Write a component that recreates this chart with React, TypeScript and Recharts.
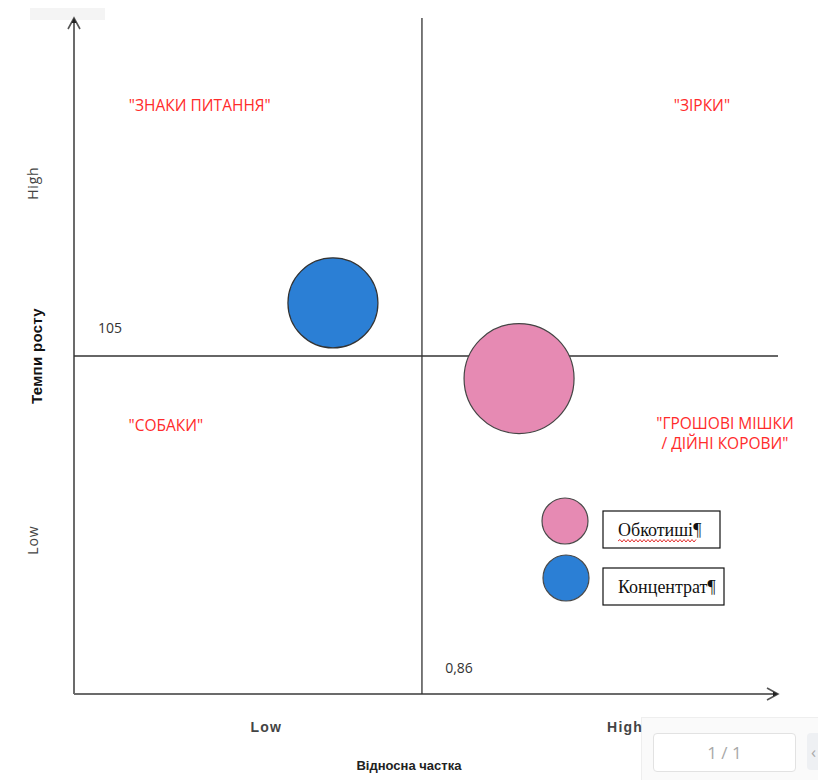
import React from 'react';
import { ScatterChart, Scatter, XAxis, YAxis, ZAxis, ReferenceLine, ReferenceDot, Legend } from 'recharts';

// ---- data ----
const seriesNames = ['Обкотиші', 'Концентрат'];
const seriesColors = ['#e68ab3', '#2b7fd5'];
const pinkData = [{ share: 1.1, growth: 98, size: 100 }];
const blueData = [{ share: 0.64, growth: 121.5, size: 67 }];

const X_MID = 0.86;
const Y_MID = 105;
const X_MAX = 1.74;
const Y_MAX = 210;
const xMidLabel = '0,86';
const yMidLabel = '105';

const xTicks = [0.475, 1.362];
const xTickLabels = ['Low', 'High'];
const yTicks = [47.8, 158.7];
const yTickLabels = ['Low', 'High'];
const xTitle = 'Відносна частка';
const yTitle = 'Темпи росту';

const quadrantLabels = [
  { share: 0.311, growth: 183, lines: ['"ЗНАКИ ПИТАННЯ"'] },
  { share: 1.552, growth: 183, lines: ['"ЗІРКИ"'] },
  { share: 0.227, growth: 83.6, lines: ['"СОБАКИ"'] },
  { share: 1.609, growth: 81, lines: ['"ГРОШОВІ МІШКИ', '/ ДІЙНІ КОРОВИ"'] },
];

const SANS = '"Open Sans", "Liberation Sans", Arial, sans-serif';
const ARIAL = '"Liberation Sans", Arial, sans-serif';
const SERIF = '"Liberation Serif", "Times New Roman", serif';

const wavy = (x0: number, x1: number, y: number) => {
  let d = `M${x0},${y}`;
  let up = true;
  for (let x = x0 + 2; x <= x1; x += 2) {
    d += ` L${x},${up ? y - 1.5 : y + 1}`;
    up = !up;
  }
  return d;
};

const LegendContent = (props: any) => {
  const payload = ([...(props.payload || [])] as any[]).sort(
    (a, b) => seriesNames.indexOf(a.value) - seriesNames.indexOf(b.value)
  );
  const boxW = [117, 121];
  return (
    <svg width={230} height={130} style={{ overflow: 'visible', display: 'block' }}>
      {payload.map((p, i) => {
        const cy = 31 + i * 57;
        return (
          <g key={i}>
            <circle cx={35 + i} cy={cy} r={23} fill={p.color} stroke="#4a4a4a" strokeWidth={1.2} />
            <rect x={73} y={cy - 10} width={boxW[i] ?? 118} height={37} fill="#fff" stroke="#111" strokeWidth={1.2} />
            <text x={88} y={cy + 15} fontFamily={SERIF} fontSize={18} fill="#111">
              {p.value}¶
            </text>
            {i === 0 && <path d={wavy(88, 166, cy + 20)} stroke="#e23030" strokeWidth={1} fill="none" />}
          </g>
        );
      })}
    </svg>
  );
};

const textShape = (dx: number, dy: number, text: string, opts: any = {}) => (props: any) => {
  const x = props.cx + dx;
  const y = props.cy + dy;
  return (
    <text
      x={x}
      y={y}
      textAnchor="middle"
      dominantBaseline="central"
      fontFamily={SANS}
      fontSize={13}
      fill="#333"
      transform={opts.rotate ? `rotate(-90 ${x} ${y})` : undefined}
      {...(opts.attrs || {})}
    >
      {text}
    </text>
  );
};

const quadShape = (lines: string[]) => (props: any) => (
  <g>
    {lines.map((l, i) => (
      <text key={i} x={props.cx} y={props.cy + (i - (lines.length - 1) / 2) * 20} textAnchor="middle"
        dominantBaseline="central" fontFamily={SANS} fontSize={15.5} fill="#ff2b2b">
        {l}
      </text>
    ))}
  </g>
);

const upArrow = (props: any) => (
  <g>
    <path d={`M${props.cx - 6},${props.cy + 11} L${props.cx},${props.cy} L${props.cx + 6},${props.cy + 11}`} stroke="#555" strokeWidth={1.6} fill="none" />
    <path d={`M${props.cx - 2.5},${props.cy + 5} L${props.cx},${props.cy} L${props.cx + 2.5},${props.cy + 5} Z`} fill="#222" />
  </g>
);

const rightArrow = (props: any) => (
  <g>
    <path d={`M${props.cx - 11},${props.cy - 6} L${props.cx},${props.cy} L${props.cx - 11},${props.cy + 6}`} stroke="#555" strokeWidth={1.6} fill="none" />
    <path d={`M${props.cx - 5},${props.cy - 2.5} L${props.cx},${props.cy} L${props.cx - 5},${props.cy + 2.5} Z`} fill="#222" />
  </g>
);

export default function App() {
  return (
    <div style={{ position: 'relative', width: 818, height: 772, background: '#fff' }}>
      {/* screenshot artifacts (behind chart) */}
      <div style={{ position: 'absolute', left: 22, top: 0, width: 75, height: 12, background: '#f4f4f4' }} />
      <div style={{ position: 'absolute', left: 633, top: 709, width: 185, height: 63, background: '#fafafa', borderTop: '1px solid #eee', borderLeft: '1px solid #eee' }}>
        <div style={{ position: 'absolute', left: 11, top: 15, width: 141, height: 37, background: '#fff', border: '1px solid #e2e2e2', borderRadius: 4, display: 'flex', alignItems: 'center', justifyContent: 'center', fontFamily: SANS, fontSize: 17, color: '#a8a8a8' }}>
          1 / 1
        </div>
        <div style={{ position: 'absolute', left: 165, top: 15, width: 30, height: 37, background: '#eef0f3', borderRadius: 4, fontFamily: SANS, fontSize: 17, color: '#aaa', paddingLeft: 4, lineHeight: '37px' }}>
          ‹
        </div>
      </div>

      <ScatterChart width={818} height={772} margin={{ top: 10, right: 48, bottom: 0, left: 8 }}>
        <XAxis type="number" dataKey="share" domain={[0, X_MAX]} height={86} axisLine={false} tickLine={false} tick={false} allowDataOverflow />
        <YAxis type="number" dataKey="growth" domain={[0, Y_MAX]} width={58} axisLine={false} tickLine={false} tick={false} allowDataOverflow />
        <ZAxis type="number" dataKey="size" domain={[0, 100]} range={[0, 9503]} />

        <ReferenceLine x={0} stroke="#6b6b6b" strokeWidth={2} />
        <ReferenceLine y={0} stroke="#6b6b6b" strokeWidth={2} />
        <ReferenceLine x={X_MID} stroke="#333" strokeWidth={1.3} />
        <ReferenceLine y={Y_MID} stroke="#333" strokeWidth={1.3} />

        <ReferenceDot x={0} y={Y_MAX} r={0} ifOverflow="visible" shape={upArrow} />
        <ReferenceDot x={X_MAX} y={0} r={0} ifOverflow="visible" shape={rightArrow} />

        {xTicks.map((t, i) => (
          <ReferenceDot key={'xt' + i} x={t} y={0} r={0} ifOverflow="visible"
            shape={textShape(0, 33, xTickLabels[i], { attrs: { fontFamily: ARIAL, letterSpacing: 1.2, fill: '#444', fontWeight: 600, fontSize: 14 } })} />
        ))}
        {yTicks.map((t, i) => (
          <ReferenceDot key={'yt' + i} x={0} y={t} r={0} ifOverflow="visible"
            shape={textShape(-41, 0, yTickLabels[i], { rotate: true, attrs: { fill: '#444', fontSize: 14, letterSpacing: 0.8 } })} />
        ))}
        <ReferenceDot x={X_MID} y={0} r={0} ifOverflow="visible"
          shape={textShape(-13, 71, xTitle, { attrs: { fontWeight: 'bold', fill: '#222', fontSize: 13, fontFamily: ARIAL } })} />
        <ReferenceDot x={0} y={Y_MID} r={0} ifOverflow="visible"
          shape={textShape(-38, 0, yTitle, { rotate: true, attrs: { fontWeight: 'bold', fill: '#111', fontSize: 15, fontFamily: ARIAL, letterSpacing: 0.3 } })} />

        <ReferenceDot x={0} y={Y_MID} r={0} ifOverflow="visible" shape={textShape(36, -29, yMidLabel, { attrs: { fontSize: 14 } })} />
        <ReferenceDot x={X_MID} y={0} r={0} ifOverflow="visible" shape={textShape(37, -27, xMidLabel, { attrs: { fontSize: 14 } })} />

        {quadrantLabels.map((q, i) => (
          <ReferenceDot key={'q' + i} x={q.share} y={q.growth} r={0} ifOverflow="visible" shape={quadShape(q.lines)} />
        ))}

        <Scatter name={seriesNames[0]} data={pinkData} fill={seriesColors[0]} stroke="#444" strokeWidth={1.2} isAnimationActive={false} />
        <Scatter name={seriesNames[1]} data={blueData} fill={seriesColors[1]} stroke="#333" strokeWidth={1.2} isAnimationActive={false} />

        <Legend content={LegendContent} layout="horizontal" verticalAlign="middle" align="center"
          wrapperStyle={{ position: 'absolute', left: 522, top: 482, width: 230, height: 130 }} />
      </ScatterChart>
    </div>
  );
}
